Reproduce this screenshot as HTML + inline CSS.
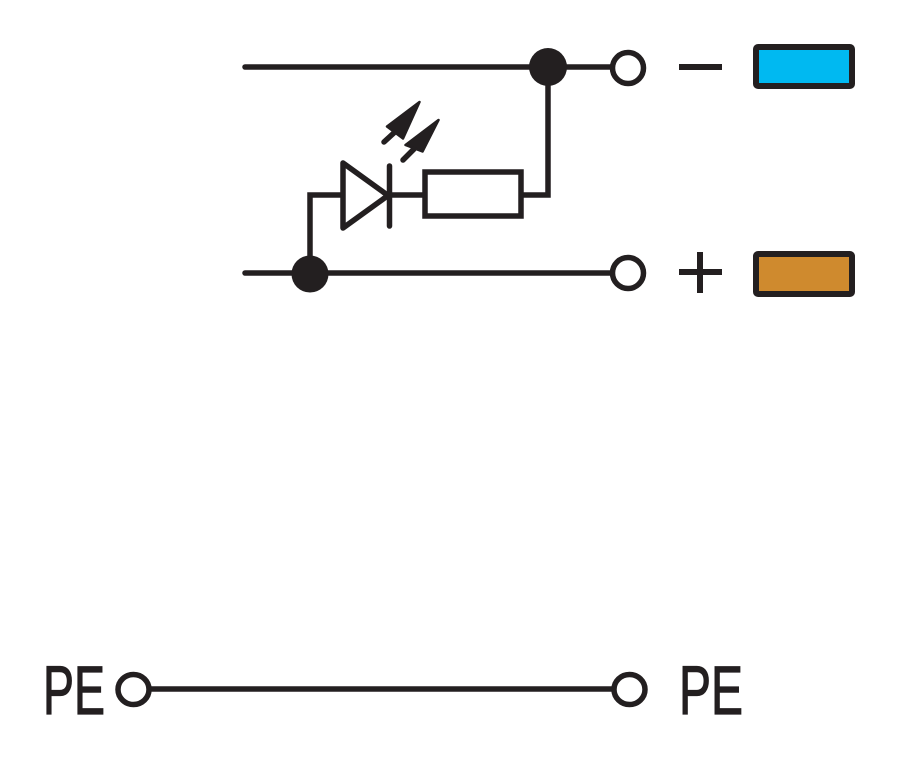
<!DOCTYPE html>
<html>
<head>
<meta charset="utf-8">
<style>
html,body{margin:0;padding:0;background:#fff;}
svg{display:block;}
</style>
</head>
<body>
<svg width="924" height="781" viewBox="0 0 924 781" xmlns="http://www.w3.org/2000/svg">
  <g stroke="#231f20" stroke-width="5.5" fill="none" stroke-linecap="round" stroke-linejoin="miter">
    <!-- top line -->
    <line x1="245" y1="67" x2="611" y2="67"/>
    <!-- bottom line -->
    <line x1="245" y1="273" x2="611" y2="273"/>
    <!-- right vertical from top dot -->
    <polyline points="548,67 548,195 523,195" stroke-linecap="butt"/>
    <!-- resistor -->
    <rect x="425" y="172" width="96" height="44"/>
    <!-- diode to resistor -->
    <line x1="389" y1="195" x2="425" y2="195" stroke-linecap="butt"/>
    <!-- left wire -->
    <polyline points="310,273 310,195 343,195" stroke-linecap="butt"/>
    <!-- diode triangle -->
    <polygon points="343,163 343,228 388,195.5" stroke-linejoin="round"/>
    <!-- diode bar -->
    <line x1="389.5" y1="166" x2="389.5" y2="226"/>
    <!-- open circles -->
    <circle cx="628" cy="68" r="15.5"/>
    <circle cx="628" cy="273" r="15.5"/>
    <!-- PE line -->
    <line x1="150" y1="689" x2="612" y2="689" stroke-linecap="butt"/>
    <ellipse cx="133.5" cy="689.5" rx="15.5" ry="15"/>
    <ellipse cx="629.5" cy="689.5" rx="15.5" ry="15"/>
    <!-- arrow shafts -->
    <line x1="384" y1="142" x2="396" y2="131"/>
    <line x1="403" y1="160" x2="414" y2="149"/>
  </g>
  <!-- arrow heads -->
  <g fill="#231f20" stroke="#231f20" stroke-width="2.5" stroke-linejoin="round">
    <polygon points="419.5,102 387,126.5 403,138.5"/>
    <polygon points="438.5,120 405.5,145 422.5,151.5"/>
  </g>
  <!-- dots -->
  <circle cx="548" cy="67" r="19" fill="#231f20"/>
  <circle cx="310" cy="274" r="18.5" fill="#231f20"/>
  <!-- minus and plus -->
  <g stroke="#231f20" stroke-width="6">
    <line x1="679" y1="67" x2="722" y2="67"/>
    <line x1="679" y1="272" x2="722" y2="272"/>
    <line x1="700" y1="252" x2="700" y2="293"/>
  </g>
  <!-- color boxes -->
  <rect x="756" y="47" width="96" height="39" rx="2" fill="#00b9f1" stroke="#231f20" stroke-width="6"/>
  <rect x="756" y="254" width="96" height="40" rx="2" fill="#cf8a2e" stroke="#231f20" stroke-width="6"/>
  <!-- PE labels -->
  <g font-family="'Liberation Sans', sans-serif" font-size="69" fill="#231f20" stroke="#231f20" stroke-width="1.2">
    <text x="43" y="714" textLength="62" lengthAdjust="spacingAndGlyphs">PE</text>
    <text x="679" y="714" textLength="64" lengthAdjust="spacingAndGlyphs">PE</text>
  </g>
</svg>
</body>
</html>
